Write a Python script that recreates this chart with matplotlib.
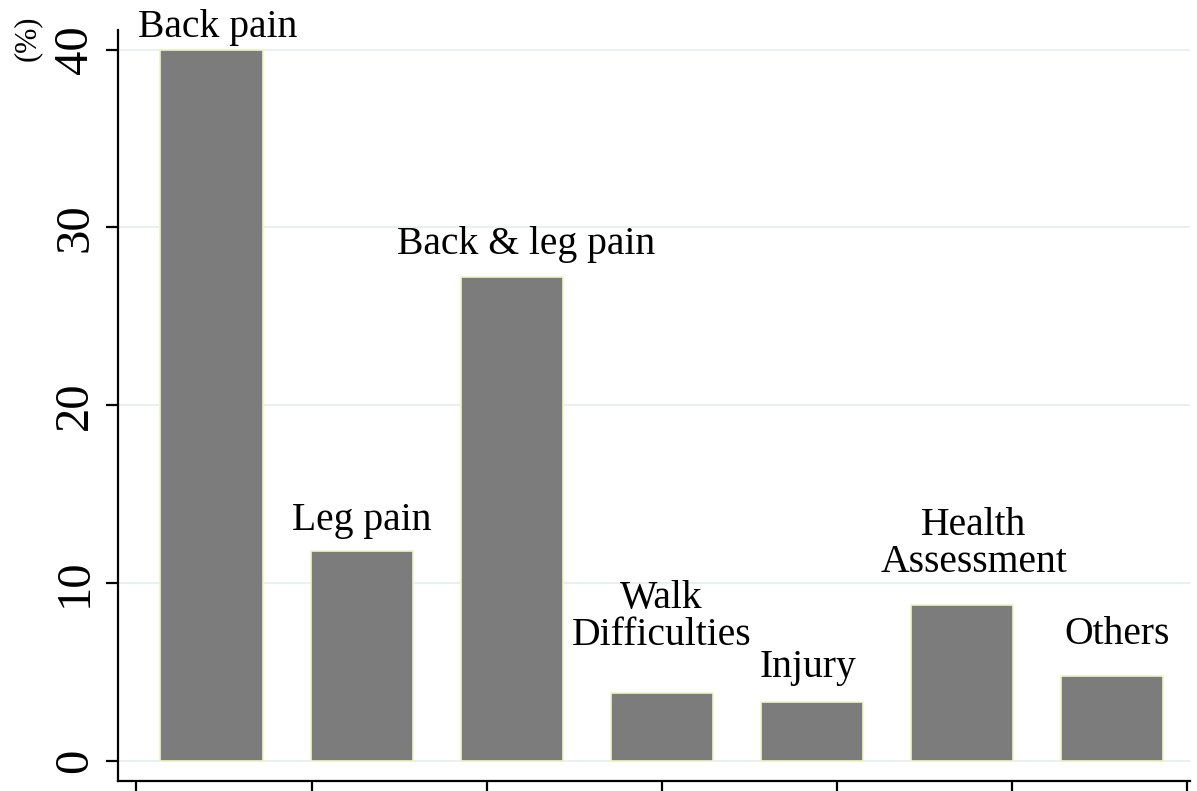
import numpy as np
import matplotlib
matplotlib.use("Agg")
import matplotlib.pyplot as plt

plt.rcParams['font.family'] = ['Liberation Serif', 'DejaVu Serif']

# reasons for visit, share in %
categories = ['Back pain', 'Leg pain', 'Back & leg pain', 'Walk\nDifficulties',
              'Injury', 'Health\nAssessment', 'Others']
values = [40.0, 11.8, 27.2, 3.8, 3.3, 8.8, 4.8]
yticks = [0, 10, 20, 30, 40]

# label placement relative to bar top (pixels: dx, dy to baseline)
label_dx = [6, 0, 15, 0, -4, 12, 5]
label_dy = [13, 21, 23, 48, 25, 33, 32]

fig = plt.figure(figsize=(11.97, 7.91), dpi=100)
ax = fig.add_axes([0.0986, 0.0126, 0.8954, 0.9494])

x = np.arange(len(categories))
ax.bar(x, values, width=0.68, color='#7d7c7d', edgecolor='#eef5c4',
       linewidth=1.2, zorder=3)

for i, (lab, v) in enumerate(zip(categories, values)):
    ax.annotate(lab, (i, v), xytext=(label_dx[i] * 0.72, label_dy[i] * 0.72),
                textcoords='offset points', ha='center', va='baseline',
                fontsize=28.5, linespacing=1.0, zorder=4)

ax.set_xlim(-0.623, 6.52)
ax.set_ylim(-1.125, 41.1)
ax.set_yticks(yticks)
ax.set_xticks(np.linspace(-0.5, 6.5, 7))
ax.set_xticklabels([])
ax.yaxis.grid(True, color='#e6edf0', linewidth=1.2, zorder=0)
ax.set_axisbelow(True)

for s in ['top', 'right']:
    ax.spines[s].set_visible(False)
for s in ['left', 'bottom']:
    ax.spines[s].set_linewidth(1.6)

ax.tick_params(axis='y', length=9, width=1.6, pad=6, labelsize=35)
ax.tick_params(axis='x', length=7, width=1.6)
for t in ax.get_yticklabels():
    t.set_rotation(90)
    t.set_va('center')

fig.text(0.0226, 0.952, '(%)', rotation=90, fontsize=22, ha='center', va='center')

fig.savefig('out.png', dpi=100)
